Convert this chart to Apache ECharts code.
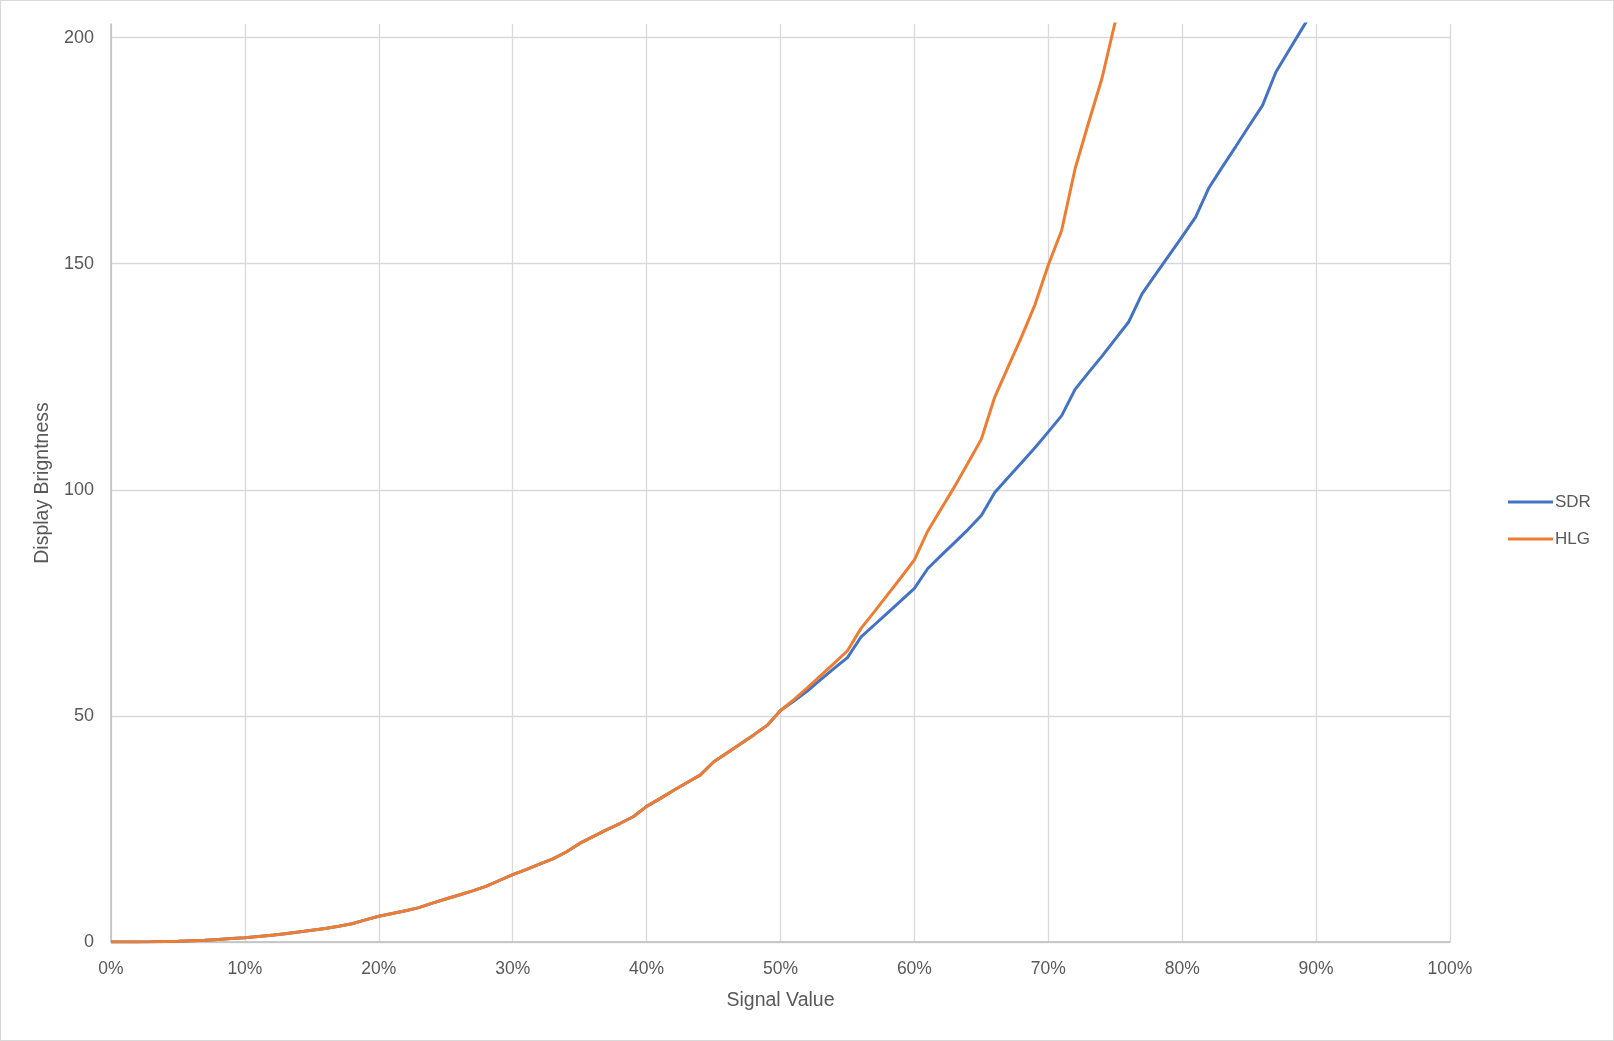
<!DOCTYPE html>
<html>
<head>
<meta charset="utf-8">
<title>SDR vs HLG</title>
<script src="https://cdn.jsdelivr.net/npm/echarts@6/dist/echarts.min.js"></script>
<style>
  html, body { margin: 0; padding: 0; background: #ffffff; }
  #brightnessChart {
    width: 1614px;
    height: 1041px;
    box-sizing: border-box;
    border: 1px solid #d9d9d9;
    background: #ffffff;
  }
</style>
</head>
<body>
<div id="brightnessChart"></div>
<script>
// signal value in %, one point per percent
const signalPct = [
  0, 1, 2, 3, 4, 5, 6, 7, 8, 9,
  10, 11, 12, 13, 14, 15, 16, 17, 18, 19,
  20, 21, 22, 23, 24, 25, 26, 27, 28, 29,
  30, 31, 32, 33, 34, 35, 36, 37, 38, 39,
  40, 41, 42, 43, 44, 45, 46, 47, 48, 49,
  50, 51, 52, 53, 54, 55, 56, 57, 58, 59,
  60, 61, 62, 63, 64, 65, 66, 67, 68, 69,
  70, 71, 72, 73, 74, 75, 76, 77, 78, 79,
  80, 81, 82, 83, 84, 85, 86, 87, 88, 89,
  90
];

// display brightness
const sdrValues = [
  0, 0, 0.02, 0.05, 0.1, 0.15, 0.3, 0.4, 0.55, 0.75,
  0.96, 1.2, 1.5, 1.8, 2.2, 2.6, 3.0, 3.5, 4.05, 4.9,
  5.7, 6.3, 6.9, 7.6, 8.6, 9.5, 10.4, 11.3, 12.3, 13.6,
  14.9, 16.0, 17.2, 18.4, 19.9, 21.8, 23.3, 24.8, 26.2, 27.7,
  30.0, 31.7, 33.5, 35.2, 36.9, 39.8, 41.8, 43.8, 45.8, 47.9,
  51.2, 53.3, 55.5, 58.0, 60.5, 62.9, 67.4, 70.1, 72.8, 75.5,
  78.2, 82.6, 85.5, 88.3, 91.2, 94.3, 99.4, 102.7, 106.0, 109.3,
  112.8, 116.4, 122.2, 125.9, 129.5, 133.3, 137.1, 143.3, 147.6, 151.8,
  156.0, 160.3, 166.8, 171.4, 175.9, 180.5, 185.0, 192.4, 197.3, 202.2,
  207.0
];

const hlgValues = [
  0, 0, 0.02, 0.05, 0.1, 0.15, 0.3, 0.4, 0.55, 0.75,
  0.96, 1.2, 1.5, 1.8, 2.2, 2.6, 3.0, 3.5, 4.05, 4.9,
  5.7, 6.3, 6.9, 7.6, 8.6, 9.5, 10.4, 11.3, 12.3, 13.6,
  14.9, 16.0, 17.2, 18.4, 19.9, 21.8, 23.3, 24.8, 26.2, 27.7,
  30.0, 31.7, 33.5, 35.2, 36.9, 39.8, 41.8, 43.8, 45.8, 47.9,
  51.2, 53.6, 56.2, 58.9, 61.6, 64.4, 69.3, 73.0, 76.8, 80.6,
  84.5, 90.9, 95.8, 100.7, 105.9, 111.2, 120.5, 127.2, 133.8, 140.9,
  149.7, 157.4, 171.0, 181.1, 190.9, 203.5, 215.0
];

const yTicks = [0, 50, 100, 150, 200];

function toPairs(values) {
  let pairs = [];
  values.forEach((v, i) => {
    pairs.push([signalPct[i], v]);
  });
  return pairs;
}

let textColor = "#595959";
let fontName = "'Liberation Sans', Arial, sans-serif";

let option = {
  animation: false,
  grid: {
    left: 110,
    right: 163,
    top: 23,
    bottom: 98
  },
  legend: {
    orient: "vertical",
    left: 1502,
    top: 486,
    icon: "rect",
    itemWidth: 45,
    itemHeight: 3,
    itemGap: 17,
    textStyle: {
      color: textColor,
      fontSize: 17,
      fontFamily: fontName,
      lineHeight: 20,
      padding: [0, 0, 0, -3]
    },
    data: ["SDR", "HLG"]
  },
  xAxis: {
    type: "value",
    min: 0,
    max: 100,
    interval: 10,
    name: "Signal Value",
    nameLocation: "middle",
    nameGap: 49,
    nameTextStyle: { color: textColor, fontSize: 19.5, fontFamily: fontName },
    axisLine: { show: true, onZero: false, lineStyle: { color: "#bfbfbf", width: 1.5 } },
    axisTick: { show: false },
    axisLabel: {
      color: textColor,
      fontSize: 17.5,
      fontFamily: fontName,
      margin: 18,
      formatter: "{value}%"
    },
    splitLine: { show: true, lineStyle: { color: "#d9d9d9", width: 1.3 } }
  },
  yAxis: {
    type: "value",
    min: 0,
    max: 203,
    interval: 50,
    name: "Display Brigntness",
    nameLocation: "middle",
    nameGap: 58,
    nameTextStyle: { color: textColor, fontSize: 19.5, fontFamily: fontName },
    axisLine: { show: true, lineStyle: { color: "#bfbfbf", width: 1.5 } },
    axisTick: { show: false },
    axisLabel: {
      color: textColor,
      fontSize: 18,
      fontFamily: fontName,
      margin: 17,
      formatter: function (v) {
        return yTicks.indexOf(v) >= 0 ? String(v) : "";
      }
    },
    splitLine: { show: true, showMaxLine: false, lineStyle: { color: "#d9d9d9", width: 1.3 } }
  },
  series: [
    {
      name: "SDR",
      type: "line",
      showSymbol: false,
      color: "#4472c4",
      lineStyle: { width: 3, color: "#4472c4" },
      data: toPairs(sdrValues)
    },
    {
      name: "HLG",
      type: "line",
      showSymbol: false,
      color: "#ed7d31",
      lineStyle: { width: 3, color: "#ed7d31" },
      data: toPairs(hlgValues)
    }
  ]
};

let myChart = echarts.init(document.getElementById("brightnessChart"));
myChart.setOption(option);
</script>
</body>
</html>
